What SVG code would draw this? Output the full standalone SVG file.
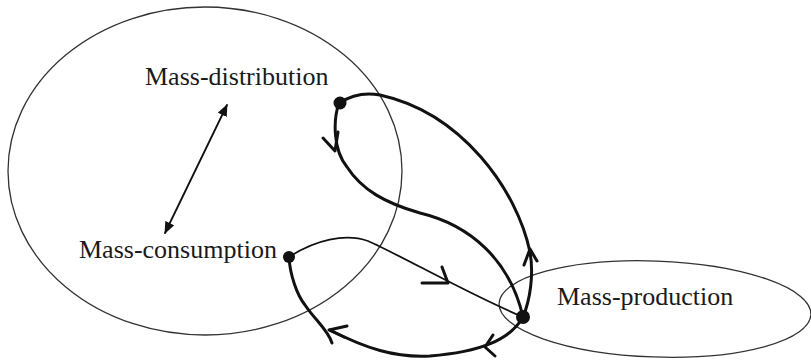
<svg xmlns="http://www.w3.org/2000/svg" width="811" height="361" viewBox="0 0 811 361">
<style>
.ell{fill:none;stroke:#333;stroke-width:1.3}
.lbl{font-family:"Liberation Serif","Times New Roman",serif;font-size:26px;fill:#1a1a1a}
.thick{fill:none;stroke:#111;stroke-width:3;stroke-linecap:round;stroke-linejoin:round}
.thin{fill:none;stroke:#111;stroke-width:1.8;stroke-linecap:round;stroke-linejoin:round}
.dot{fill:#111}
</style>
<defs>
<marker id="tri" viewBox="0 0 12 10" refX="11" refY="5" markerWidth="12" markerHeight="10" markerUnits="userSpaceOnUse" orient="auto-start-reverse">
<path d="M0,0 L12,5 L0,10 Z" fill="#111"/>
</marker>
</defs>
<g id="big-circle">
<ellipse class="ell" cx="205" cy="171" rx="197" ry="164"/>
</g>
<g id="production-ellipse">
<ellipse class="ell" cx="655" cy="309" rx="156" ry="48" transform="rotate(2 655 309)"/>
</g>
<g id="mass-distribution">
<text class="lbl" x="145" y="85">Mass-distribution</text>
</g>
<g id="mass-consumption">
<text class="lbl" x="79" y="258">Mass-consumption</text>
</g>
<g id="mass-production">
<text class="lbl" x="557" y="305">Mass-production</text>
</g>
<g id="connectors">
<line class="thin" x1="165" y1="233" x2="227" y2="105" stroke-width="1.5" marker-start="url(#tri)" marker-end="url(#tri)"/>
<path class="thick" d="M523,317 C530,300 534,275 530,252 C517,190 462,113 380,95 C365,92 350,96 339,103"/>
<path class="thick" d="M524,265 L530,249 L537,261"/>
<path class="thick" d="M339,103 C333,120 333,150 347,167 C362,190 385,203 420,213 C470,225 510,260 523,317" stroke-width="2.4"/>
<path class="thick" d="M323,138 L335,151 L338,132" stroke-width="2.2"/>
<path class="thin" d="M289,257 C315,240 345,233 368,241 C400,255 470,295 523,317"/>
<path class="thick" d="M422,283 L448,283 L442,267" stroke-width="2.2"/>
<path class="thick" d="M289,257 C290,275 297,295 305,305 C315,320 328,330 332,343" stroke-width="2.6"/>
<path class="thick" d="M523,317 C510,340 480,352 430,356 C395,358 365,348 330,330"/>
<path class="thick" d="M493,335 L485,347 L495,356" stroke-width="2.4"/>
<path class="thick" d="M347,326 L329,330 L344,337" stroke-width="2.4"/>
</g>
<g id="dots">
<circle class="dot" cx="340" cy="103" r="6.5"/>
<circle class="dot" cx="523" cy="317" r="7"/>
<circle class="dot" cx="289" cy="257" r="6"/>
</g>
</svg>
